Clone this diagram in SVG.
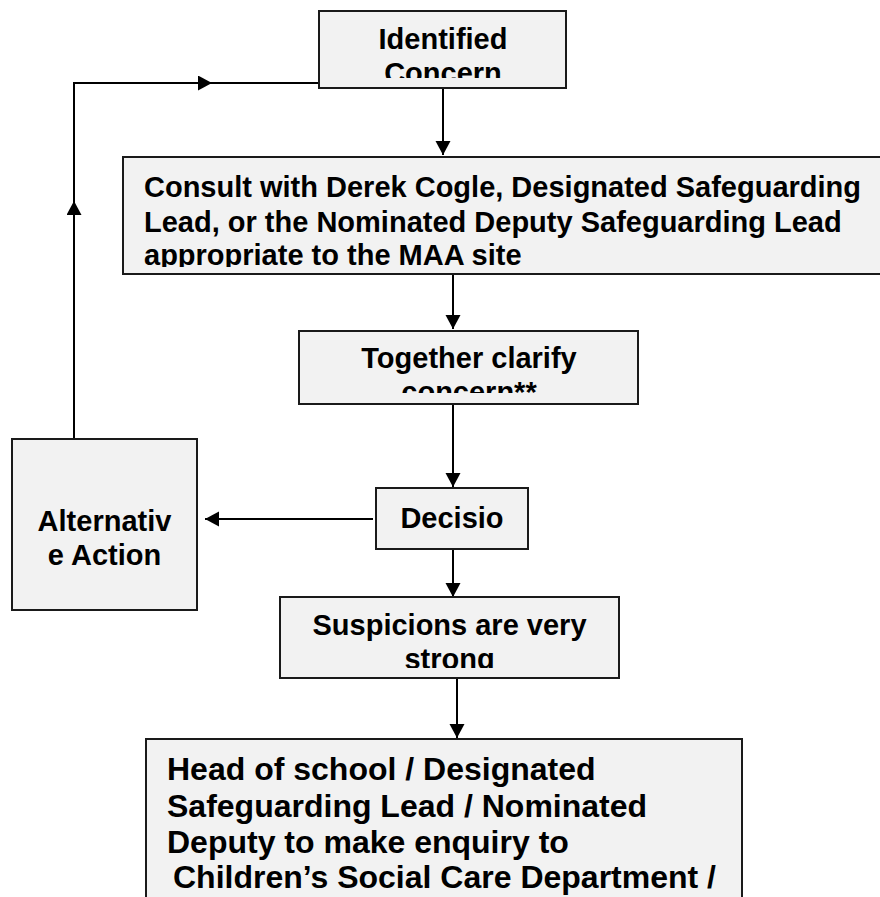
<svg xmlns="http://www.w3.org/2000/svg" width="880" height="897" viewBox="0 0 880 897">
  <style>
    .box { fill: #f2f2f2; stroke: #1a1a1a; stroke-width: 2; }
    .t { font-family: "Liberation Sans", Arial, Helvetica, sans-serif; font-weight: bold; font-size: 29px; fill: #000; }
    .big { font-size: 32px; }
    .c { text-anchor: middle; }
    .conn { fill: none; stroke: #000; stroke-width: 2; }
  </style>
  <defs>
    <marker id="arr" markerUnits="userSpaceOnUse" markerWidth="16" markerHeight="16" refX="14" refY="7.5" orient="auto">
      <path d="M0,0 L14,7.5 L0,15 Z" fill="#000"/>
    </marker>
    <clipPath id="clipIdent"><rect x="319" y="11" width="247" height="67"/></clipPath>
    <clipPath id="clipConsult"><rect x="123" y="157" width="760" height="110"/></clipPath>
    <clipPath id="clipTogether"><rect x="299" y="331" width="339" height="62"/></clipPath>
    <clipPath id="clipAlt"><rect x="12" y="439" width="185" height="171"/></clipPath>
    <clipPath id="clipSusp"><rect x="280" y="597" width="339" height="71"/></clipPath>
  </defs>

  <g id="connectors">
    <path class="conn" d="M443,88 V155" marker-end="url(#arr)"/>
    <path class="conn" d="M453,274 V329" marker-end="url(#arr)"/>
    <path class="conn" d="M453,404 V487" marker-end="url(#arr)"/>
    <path class="conn" d="M373,519 H205" marker-end="url(#arr)"/>
    <path class="conn" d="M453,549 V597" marker-end="url(#arr)"/>
    <path class="conn" d="M457,678 V738" marker-end="url(#arr)"/>
    <path class="conn" d="M74,439 V201" marker-end="url(#arr)"/>
    <path class="conn" d="M74,203 V83 H212" marker-end="url(#arr)"/>
    <path class="conn" d="M210,83 H319"/>
  </g>

  <g id="identified">
    <rect class="box" x="319" y="11" width="247" height="77"/>
    <g clip-path="url(#clipIdent)">
      <text class="t c" x="443" y="49">Identified</text>
      <text class="t c" x="443" y="83">Concern</text>
    </g>
  </g>

  <g id="consult">
    <rect class="box" x="123" y="157" width="770" height="117"/>
    <g clip-path="url(#clipConsult)">
      <text class="t" x="144" y="197">Consult with Derek Cogle, Designated Safeguarding</text>
      <text class="t" x="144" y="232">Lead, or the Nominated Deputy Safeguarding Lead</text>
      <text class="t" x="144" y="265">appropriate to the MAA site</text>
    </g>
  </g>

  <g id="together">
    <rect class="box" x="299" y="331" width="339" height="73"/>
    <g clip-path="url(#clipTogether)">
      <text class="t c" x="469" y="368">Together clarify</text>
      <text class="t c" x="469" y="402">concern**</text>
    </g>
  </g>

  <g id="decision">
    <rect class="box" x="376" y="488" width="152" height="61"/>
    <text class="t c" x="452" y="528">Decisio</text>
  </g>

  <g id="alternative">
    <rect class="box" x="12" y="439" width="185" height="171"/>
    <g clip-path="url(#clipAlt)">
      <text class="t c" x="104.5" y="531">Alternativ</text>
      <text class="t c" x="104.5" y="565">e Action</text>
    </g>
  </g>

  <g id="suspicions">
    <rect class="box" x="280" y="597" width="339" height="81"/>
    <g clip-path="url(#clipSusp)">
      <text class="t c" x="449.5" y="635">Suspicions are very</text>
      <text class="t c" x="449.5" y="669">strong</text>
    </g>
  </g>

  <g id="head">
    <rect class="box" x="146" y="739" width="596" height="180"/>
    <text class="t big" x="167" y="780">Head of school / Designated</text>
    <text class="t big" x="167" y="817">Safeguarding Lead / Nominated</text>
    <text class="t big" x="167" y="853">Deputy to make enquiry to</text>
    <text class="t big" x="173" y="888">Children’s Social Care Department /</text>
  </g>
</svg>
